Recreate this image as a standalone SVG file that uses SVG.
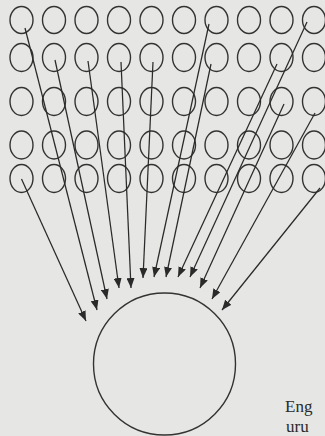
<svg xmlns="http://www.w3.org/2000/svg" width="325" height="436" viewBox="0 0 325 436">
<defs>
<marker id="ah" markerUnits="userSpaceOnUse" markerWidth="10" markerHeight="8" refX="10" refY="4" orient="auto">
<path d="M0,0 L10,4 L0,8 z" fill="#2a2a2a"/>
</marker>
</defs>
<style>
.n{fill:none;stroke:#333;stroke-width:1.4}
.c line{stroke:#2a2a2a;stroke-width:1.25;marker-end:url(#ah)}
.t{font-family:"Liberation Serif",serif;font-size:17px;fill:#2a2a2a}
</style>
<rect width="325" height="436" fill="#e6e6e4"/>
<g id="grid">
<g id="r1">
<ellipse class="n" cx="21.5" cy="20" rx="11.5" ry="13.5"/><ellipse class="n" cx="54" cy="20" rx="11.5" ry="13.5"/><ellipse class="n" cx="86.5" cy="20" rx="11.5" ry="13.5"/><ellipse class="n" cx="119" cy="20" rx="11.5" ry="13.5"/><ellipse class="n" cx="151.5" cy="20" rx="11.5" ry="13.5"/><ellipse class="n" cx="184" cy="20" rx="11.5" ry="13.5"/><ellipse class="n" cx="216.5" cy="20" rx="11.5" ry="13.5"/><ellipse class="n" cx="249" cy="20" rx="11.5" ry="13.5"/><ellipse class="n" cx="281.5" cy="20" rx="11.5" ry="13.5"/><ellipse class="n" cx="314" cy="20" rx="11.5" ry="13.5"/>
</g>
<g id="r2">
<ellipse class="n" cx="21.5" cy="57.5" rx="11.5" ry="14"/><ellipse class="n" cx="54" cy="57.5" rx="11.5" ry="14"/><ellipse class="n" cx="86.5" cy="57.5" rx="11.5" ry="14"/><ellipse class="n" cx="119" cy="57.5" rx="11.5" ry="14"/><ellipse class="n" cx="151.5" cy="57.5" rx="11.5" ry="14"/><ellipse class="n" cx="184" cy="57.5" rx="11.5" ry="14"/><ellipse class="n" cx="216.5" cy="57.5" rx="11.5" ry="14"/><ellipse class="n" cx="249" cy="57.5" rx="11.5" ry="14"/><ellipse class="n" cx="281.5" cy="57.5" rx="11.5" ry="14"/><ellipse class="n" cx="314" cy="57.5" rx="11.5" ry="14"/>
</g>
<g id="r3">
<ellipse class="n" cx="21.5" cy="101.5" rx="11.5" ry="14"/><ellipse class="n" cx="54" cy="101.5" rx="11.5" ry="14"/><ellipse class="n" cx="86.5" cy="101.5" rx="11.5" ry="14"/><ellipse class="n" cx="119" cy="101.5" rx="11.5" ry="14"/><ellipse class="n" cx="151.5" cy="101.5" rx="11.5" ry="14"/><ellipse class="n" cx="184" cy="101.5" rx="11.5" ry="14"/><ellipse class="n" cx="216.5" cy="101.5" rx="11.5" ry="14"/><ellipse class="n" cx="249" cy="101.5" rx="11.5" ry="14"/><ellipse class="n" cx="281.5" cy="101.5" rx="11.5" ry="14"/><ellipse class="n" cx="314" cy="101.5" rx="11.5" ry="14"/>
</g>
<g id="r4">
<ellipse class="n" cx="21.5" cy="145" rx="11.5" ry="14"/><ellipse class="n" cx="54" cy="145" rx="11.5" ry="14"/><ellipse class="n" cx="86.5" cy="145" rx="11.5" ry="14"/><ellipse class="n" cx="119" cy="145" rx="11.5" ry="14"/><ellipse class="n" cx="151.5" cy="145" rx="11.5" ry="14"/><ellipse class="n" cx="184" cy="145" rx="11.5" ry="14"/><ellipse class="n" cx="216.5" cy="145" rx="11.5" ry="14"/><ellipse class="n" cx="249" cy="145" rx="11.5" ry="14"/><ellipse class="n" cx="281.5" cy="145" rx="11.5" ry="14"/><ellipse class="n" cx="314" cy="145" rx="11.5" ry="14"/>
</g>
<g id="r5">
<ellipse class="n" cx="21.5" cy="178.5" rx="11.5" ry="14"/><ellipse class="n" cx="54" cy="178.5" rx="11.5" ry="14"/><ellipse class="n" cx="86.5" cy="178.5" rx="11.5" ry="14"/><ellipse class="n" cx="119" cy="178.5" rx="11.5" ry="14"/><ellipse class="n" cx="151.5" cy="178.5" rx="11.5" ry="14"/><ellipse class="n" cx="184" cy="178.5" rx="11.5" ry="14"/><ellipse class="n" cx="216.5" cy="178.5" rx="11.5" ry="14"/><ellipse class="n" cx="249" cy="178.5" rx="11.5" ry="14"/><ellipse class="n" cx="281.5" cy="178.5" rx="11.5" ry="14"/><ellipse class="n" cx="314" cy="178.5" rx="11.5" ry="14"/>
</g>
</g>
<g id="target">
<circle class="n" cx="164.5" cy="364" r="71"/>
</g>
<g id="connectors" class="c">
<line x1="21.5" y1="179" x2="86" y2="321"/>
<line x1="25" y1="28" x2="97" y2="310"/>
<line x1="55" y1="60" x2="107" y2="299"/>
<line x1="88" y1="61" x2="119" y2="288"/>
<line x1="121" y1="62" x2="131" y2="288"/>
<line x1="153" y1="62" x2="143" y2="278"/>
<line x1="209" y1="24" x2="154" y2="277"/>
<line x1="211" y1="64" x2="166" y2="277"/>
<line x1="277" y1="64" x2="178" y2="277"/>
<line x1="307" y1="22" x2="190" y2="277"/>
<line x1="284" y1="104" x2="200" y2="288"/>
<line x1="315" y1="113" x2="212" y2="299"/>
<line x1="320" y1="188" x2="222" y2="310"/>
</g>
<g id="texts">
<text class="t" x="285" y="412">Eng</text>
<text class="t" x="286" y="432">uru</text>
</g>
</svg>
